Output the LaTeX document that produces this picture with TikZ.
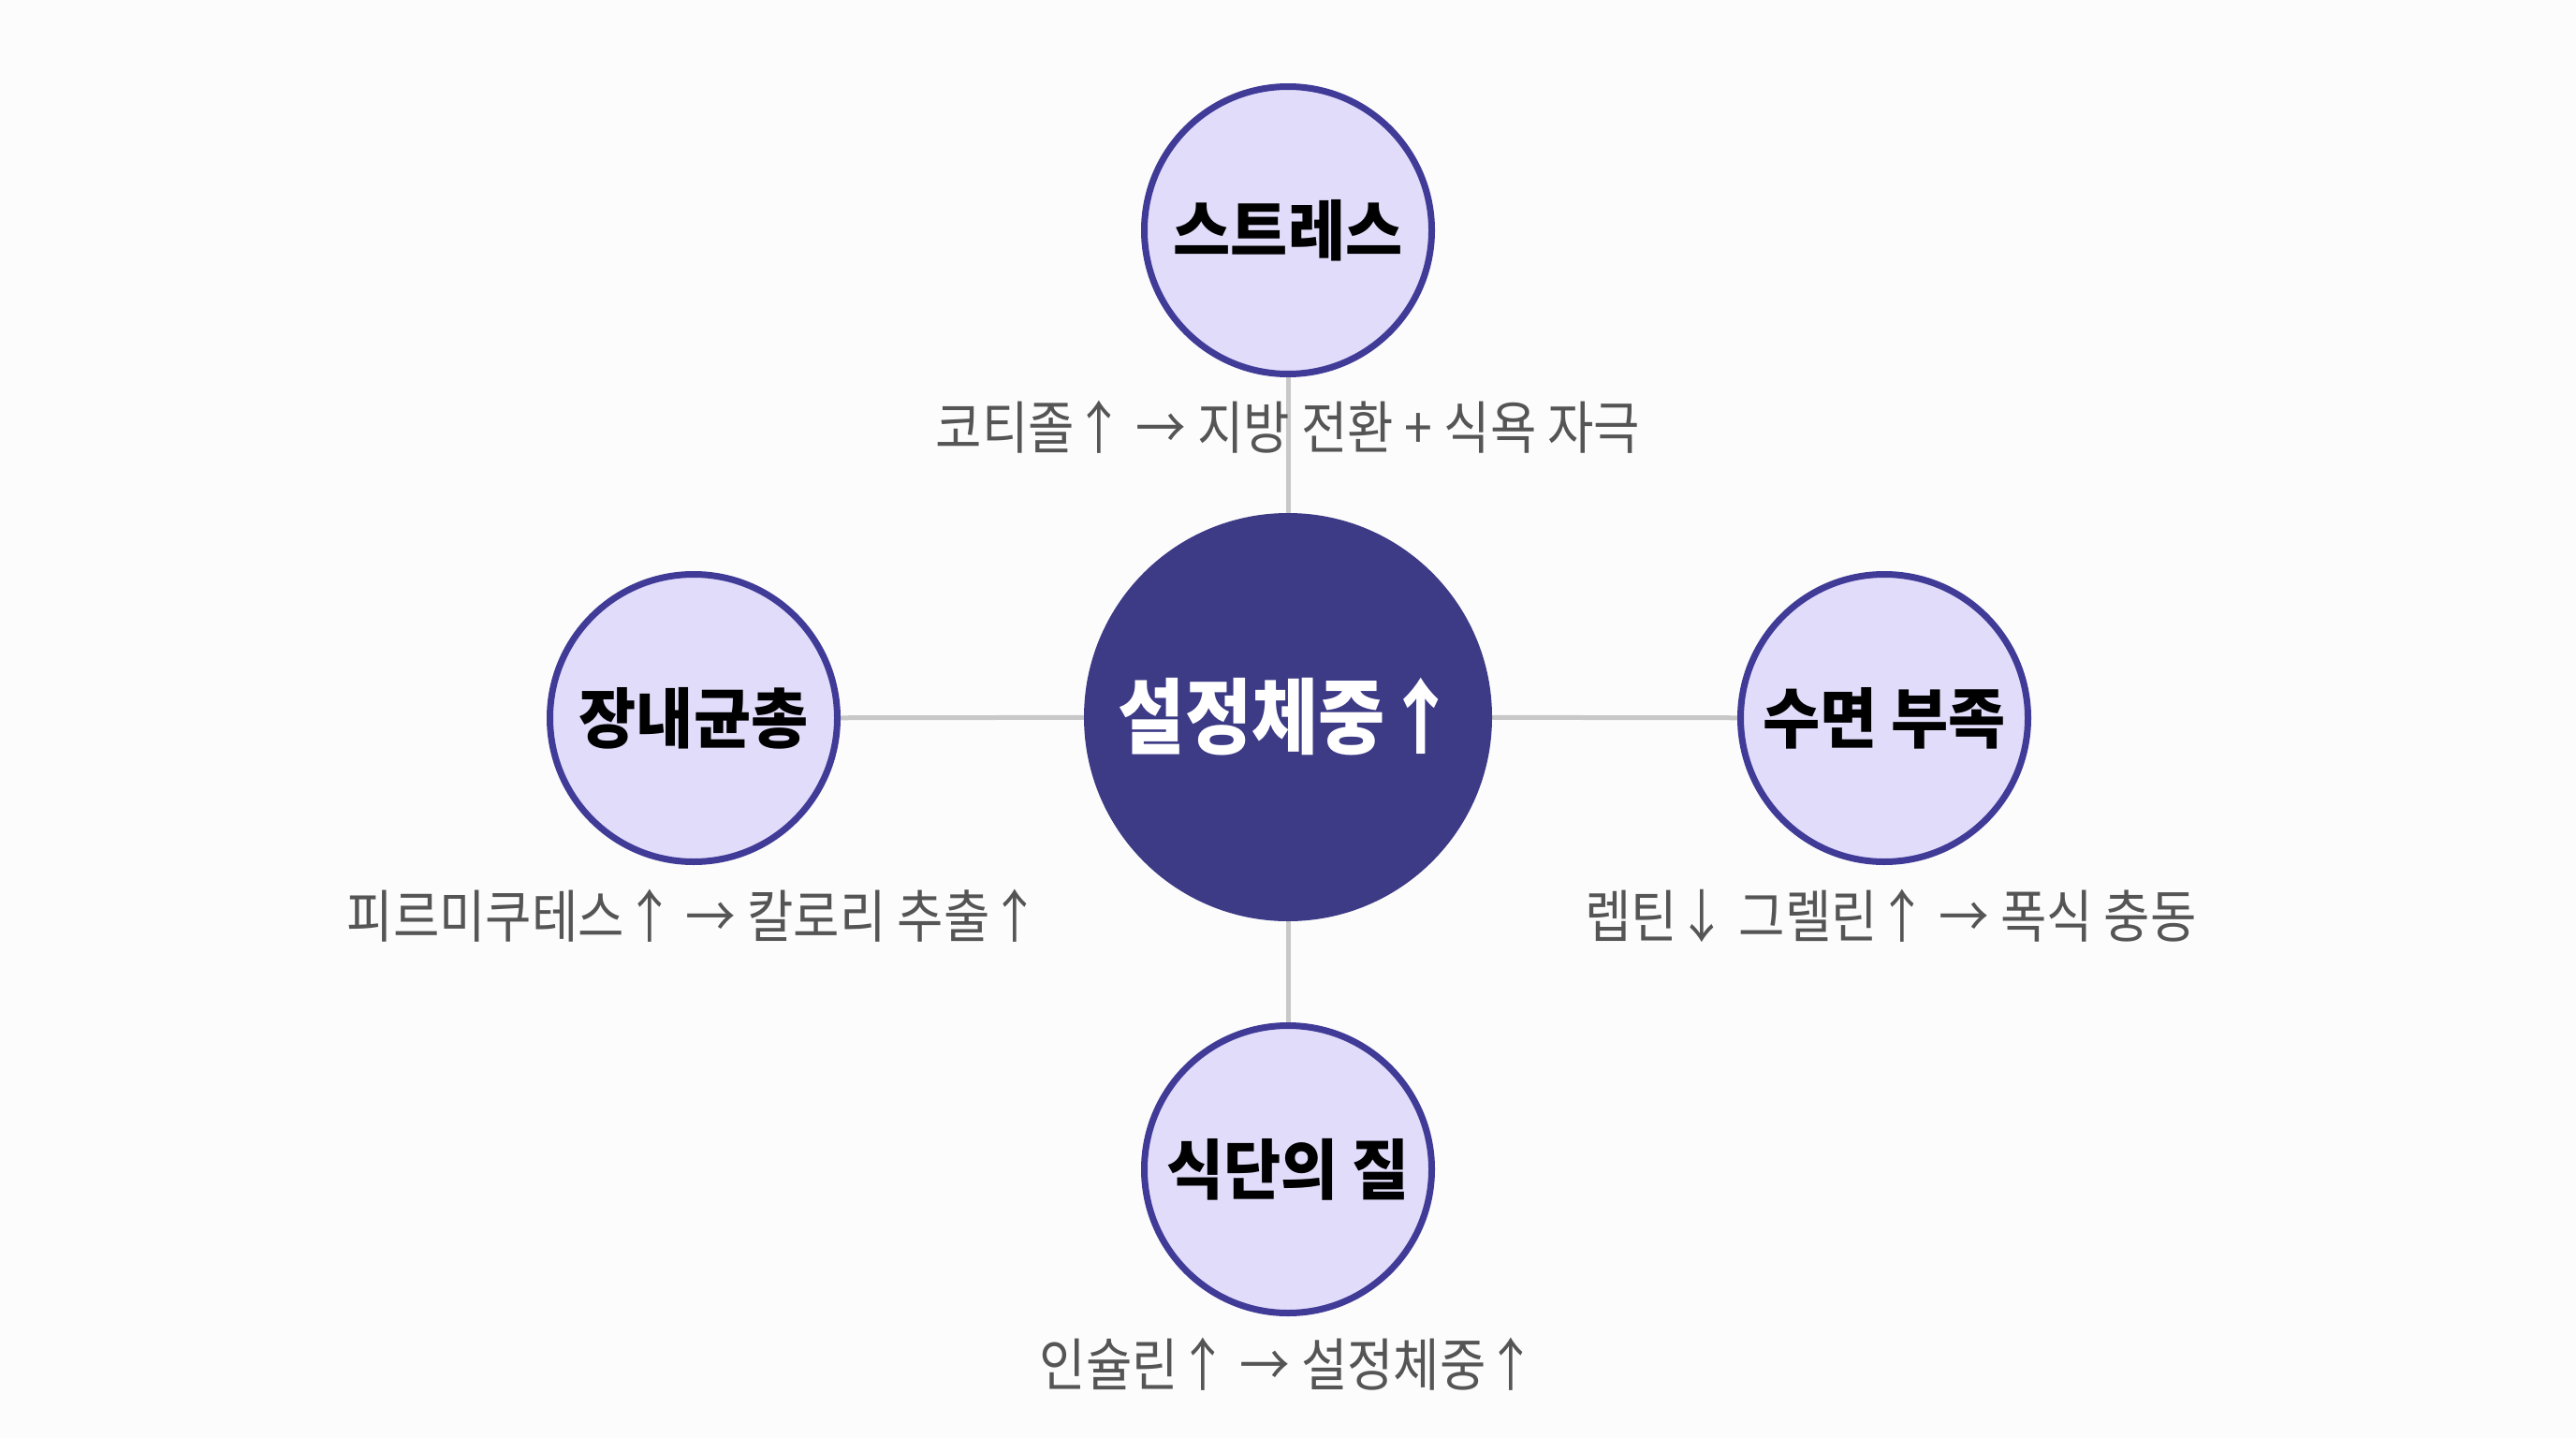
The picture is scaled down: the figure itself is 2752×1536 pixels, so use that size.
\documentclass[tikz,border=0pt]{standalone}
\usepackage{fontspec}
\usetikzlibrary{backgrounds}
\newfontfamily\kr[FakeStretch=0.88]{Noto Sans CJK KR}
\newfontfamily\krb[FakeStretch=0.95]{Noto Sans CJK KR}
\definecolor{ring}{HTML}{403B97}
\definecolor{satfill}{HTML}{E1DCFA}
\definecolor{core}{HTML}{3D3A86}
\definecolor{link}{HTML}{C8C8C8}
\definecolor{note}{HTML}{555555}
\definecolor{paper}{HTML}{FCFCFC}
\tikzset{
  hub/.style={circle, fill=core, minimum size=436pt, inner sep=0pt, text=white,
    font=\kr\bfseries\fontsize{88}{100}\selectfont},
  sat/.style={circle, draw=ring, line width=7pt, fill=satfill, minimum size=307pt, inner sep=0pt,
    text=black, font=\krb\bfseries\fontsize{70}{82}\selectfont},
  note/.style={text=note, inner sep=0pt, font=\kr\fontsize{61}{72}\selectfont},
  link/.style={draw=link, line width=5pt}
}
\begin{document}
\begin{tikzpicture}[x=1pt,y=-1pt]
\useasboundingbox (0,0) rectangle (2752,1536);
\node[hub] (c) at (1376,766) {설정체중↑};
\node[sat] (t) at (1376,246) {스트레스};
\node[sat] (l) at (741,767) {장내균총};
\node[sat] (r) at (2013,767) {수면 부족};
\node[sat] (b) at (1376,1249) {식단의 질};
\node[note] (tn) at (1376,456) {코티졸↑ → 지방 전환 + 식욕 자극};
\node[note] (ln) at (741,978) {피르미쿠테스↑ → 칼로리 추출↑};
\node[note] (rn) at (2020,978) {렙틴↓ 그렐린↑ → 폭식 충동};
\node[note] (bn) at (1376,1457) {인슐린↑ → 설정체중↑};
\begin{scope}[on background layer]
  \fill[paper] (0,0) rectangle (2752,1536);
  \draw[link] (c) -- (t);
  \draw[link] (c) -- (l);
  \draw[link] (c) -- (r);
  \draw[link] (c) -- (b);
\end{scope}
\end{tikzpicture}
\end{document}
